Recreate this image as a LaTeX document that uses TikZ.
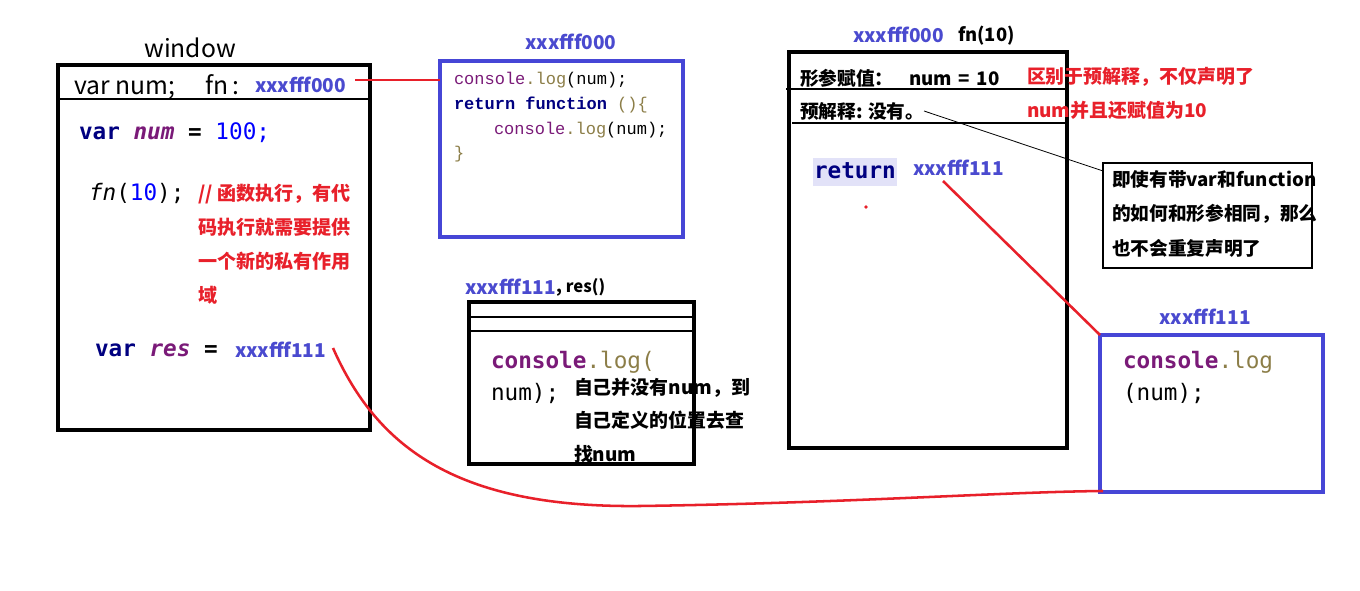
\documentclass[tikz,border=0pt]{standalone}
\usepackage{fontspec}
\setmainfont{Noto Sans CJK SC}
\newfontfamily\cjk{Noto Sans CJK SC}
\newfontfamily\mono{DejaVu Sans Mono}
\newfontfamily\sunf{Liberation Mono}
\definecolor{bl}{HTML}{4646D6}
\definecolor{lbl}{HTML}{4A4ACF}
\definecolor{rd}{HTML}{E8202A}
\definecolor{nv}{HTML}{000080}
\definecolor{pu}{HTML}{7A1A78}
\definecolor{ol}{HTML}{8C7E48}
\definecolor{nb}{HTML}{0000FF}
\definecolor{hl}{HTML}{E2E2F8}
\begin{document}
\begin{tikzpicture}[x=0.75pt,y=-0.75pt,
 every node/.style={inner sep=0pt, outer sep=0pt},
 sz/.style 2 args={minimum width=#1*0.75pt, minimum height=#2*0.75pt, anchor=north west},
 kbox/.style={draw=black, line width=2.7pt},
 wbox/.style={draw=black, line width=3.3pt},
 bbox/.style={draw=bl, line width=2.3pt},
 abox/.style={draw=black, line width=0.9pt},
 sep/.style={draw=black, line width=0.8pt},
 addr/.style={text=lbl, font=\cjk\bfseries\fontsize{14.3}{16}\selectfont, anchor=west},
 cn/.style={font=\cjk\bfseries\fontsize{14}{16}\selectfont, anchor=west},
 code/.style={font=\mono\fontsize{17}{20}\selectfont, anchor=west},
 sun/.style={font=\sunf\fontsize{12.75}{15}\selectfont, anchor=west},
 redline/.style={draw=rd, line width=1.9pt},
 leader/.style={draw=black, line width=0.6pt},
]
\useasboundingbox (0,0) rectangle (1360,591);
\fill[white] (0,0) rectangle (1360,591);

% ---------- window ----------
\node[font=\cjk\fontsize{18.5}{20}\selectfont] (wlabel) at (190,48) {window};
\node[wbox, sz={312}{365}] (win) at (58,65) {};
\draw[sep] (win.west |- 0,99) -- (win.east |- 0,99);
\node[anchor=west, font=\cjk\fontsize{18.5}{20}\selectfont] (hdr) at (74,87) {var num;\hspace{23pt}fn\,:};
\node[addr] (fnaddr) at (255,85) {xxxfff000};
\node[code] (l1) at (79,133) {{\color{nv}\bfseries var} {\color{pu}\bfseries\itshape num} {\bfseries =} {\color{nb}100;}};
\node[code] (l2) at (89,193) {{\itshape fn}({\color{nb}10});};
\node[cn, text=rd, align=left, anchor=north west, font=\cjk\bfseries\fontsize{14.3}{25.5}\selectfont] (cm1) at (198,184) {// 函数执行，有代\\码执行就需要提供\\一个新的私有作用\\域};
\node[code] (l3) at (95,350) {{\color{nv}\bfseries var} {\color{pu}\bfseries\itshape res} {\bfseries =}};
\node[addr] (resval) at (235,350) {xxxfff111};

% ---------- heap xxxfff000 ----------
\node[addr, anchor=center] (mlabel) at (571,42) {xxxfff000};
\node[bbox, sz={243}{176}] (mbox) at (440,61) {};
\node[sun] (m1) at (454,80) {{\color{pu}console}{\color{ol}.log}(num);};
\node[sun] (m2) at (454,105) {{\color{nv}\bfseries return function} {\color{ol}()\{}};
\node[sun] (m3) at (494,130) {{\color{pu}console}{\color{ol}.log}(num);};
\node[sun] (m4) at (454,154) {{\color{ol}\}}};

% ---------- heap xxxfff111 (middle) ----------
\node[addr] (rlabel) at (465,287) {xxxfff111};
\node[cn, font=\cjk\bfseries\fontsize{12.5}{14}\selectfont] (rname) at (rlabel.east) {, res()};
\node[kbox, sz={225}{162}] (rbox) at (469,302) {};
\draw[sep] (469,317) -- (696,317);
\draw[sep] (467,331) -- (696,331);
\node[code] (r1) at (491,362) {{\color{pu}\bfseries console}{\color{ol}.log(}};
\node[code] (r2) at (491,393) {num);};
\node[cn, align=left, anchor=north west, font=\cjk\bfseries\fontsize{14.2}{25}\selectfont] (rnote) at (574,378) {自己并没有num，到\\自己定义的位置去查\\找num};

% ---------- private scope fn(10) ----------
\node[addr] (slabel) at (853,35) {xxxfff000};
\node[cn, font=\cjk\bfseries\fontsize{13.8}{16}\selectfont] (sname) at (958,36) {fn(10)};
\node[kbox, sz={278}{396}] (sbox) at (789,52) {};
\node[cn] (s1) at (800,78) {形参赋值：\hspace{12pt}num\hspace{5pt}=\hspace{5pt}10};
\draw[sep] (786,89) -- (sbox.east |- 0,89);
\node[cn] (s2) at (800,111) {预解释: 没有。};
\draw[sep] (792,123) -- (sbox.east |- 0,123);
\node[fill=hl, sz={84}{28}] (retbg) at (813,158) {};
\node[code, text=nv, font=\mono\bfseries\fontsize{17}{20}\selectfont] (ret) at (814,171) {return};
\node[addr] (retval) at (913,168) {xxxfff111};
\fill[rd] (866,207) circle (1.8);

\node[cn, text=rd, align=left, anchor=north west, font=\cjk\bfseries\fontsize{14.2}{25.5}\selectfont] (snote) at (1027,67) {区别于预解释，不仅声明了\\num并且还赋值为10};

\node[abox, sz={209}{105}] (note) at (1103,163) {};
\node[cn, align=left, anchor=north west, font=\cjk\bfseries\fontsize{14}{26}\selectfont] (notetext) at (1112,170) {即使有带var和function\\的如何和形参相同，那么\\也不会重复声明了};

% ---------- heap xxxfff111 (right) ----------
\node[addr, anchor=center] (flabel) at (1205,317) {xxxfff111};
\node[bbox, sz={223}{157}] (fbox) at (1100,335) {};
\node[code] (f1) at (1123,362) {{\color{pu}\bfseries console}{\color{ol}.log}};
\node[code] (f2) at (1123,393) {(num);};

% ---------- connectors ----------
\coordinate (c1) at (355,80);
\draw[redline] (c1) -- (mbox.west |- c1);
\coordinate (c2) at (333,348);
\coordinate (c3) at (1103,491);
\draw[redline] (c2) .. controls (378,450) and (460,508) .. (640,506)
  .. controls (850,503) and (1000,492) .. (c3);
\draw[redline] (1093,491) -- (c3);
\coordinate (c4) at (943,181);
\draw[redline] (c4) -- (fbox.north west);
\coordinate (c5) at (924,111);
\draw[leader] (c5) -- (note.west |- 0,171);
\end{tikzpicture}
\end{document}
